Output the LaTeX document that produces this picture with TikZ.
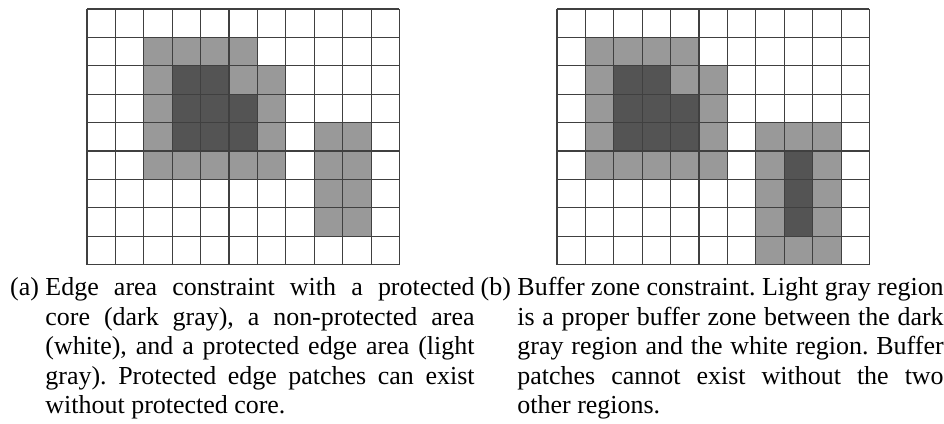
\documentclass[tikz,border=0pt]{standalone}
\usepackage{fontspec}
\setmainfont{Liberation Serif}

\begin{document}
\begin{tikzpicture}[x=0.42pt,y=-0.42pt,
  lite/.style={fill=black!40},
  dark/.style={fill=black!67},
  gridline/.style={draw=black!75,line width=0.45pt},
  capt/.style={anchor=base west,inner sep=0pt,align=justify,text width=#1,
               font={\fontsize{10.9}{12.39}\selectfont\frenchspacing}}]
  \useasboundingbox (0,0) rectangle (944,424);
  % (a) protected core with edge area
  \begin{scope}[shift={(87,9)},x=11.93pt,y=-11.93pt]
    \foreach \c/\r in {2/1,3/1,4/1,5/1,2/2,5/2,6/2,2/3,6/3,2/4,6/4,8/4,9/4,
                       2/5,3/5,4/5,5/5,6/5,8/5,9/5,8/6,9/6,8/7,9/7}
      \fill[lite] (\c,\r) rectangle +(1,1);
    \foreach \c/\r in {3/2,4/2,3/3,4/3,5/3,3/4,4/4,5/4}
      \fill[dark] (\c,\r) rectangle +(1,1);
    \foreach \i in {0,...,11} \draw[gridline] (\i,0) -- (\i,9);
    \foreach \j in {0,...,9} \draw[gridline] (0,\j) -- (11,\j);
  \end{scope}
  % (b) buffer zone
  \begin{scope}[shift={(557,9)},x=11.93pt,y=-11.93pt]
    \foreach \c/\r in {1/1,2/1,3/1,4/1,1/2,4/2,5/2,1/3,5/3,1/4,5/4,7/4,8/4,9/4,
                       1/5,2/5,3/5,4/5,5/5,7/5,9/5,7/6,9/6,7/7,9/7,7/8,8/8,9/8}
      \fill[lite] (\c,\r) rectangle +(1,1);
    \foreach \c/\r in {2/2,3/2,2/3,3/3,4/3,2/4,3/4,4/4,8/5,8/6,8/7}
      \fill[dark] (\c,\r) rectangle +(1,1);
    \foreach \i in {0,...,11} \draw[gridline] (\i,0) -- (\i,9);
    \foreach \j in {0,...,9} \draw[gridline] (0,\j) -- (11,\j);
  \end{scope}
  % captions
  \node[capt=180.2pt] (capa) at (45,296) {\noindent\llap{(a) }Edge area constraint with a protected\linebreak core (dark gray), a non-protected area\linebreak (white), and a protected edge area (light\linebreak gray). Protected edge patches can exist\linebreak without protected core.};
  \node[capt=179pt] (capb) at (517,296) {\noindent\llap{(b) }Buffer zone constraint. Light gray region\linebreak is a proper buffer zone between the dark\linebreak gray region and the white region. Buffer\linebreak patches cannot exist without the two\linebreak other regions.};
\end{tikzpicture}
\end{document}
